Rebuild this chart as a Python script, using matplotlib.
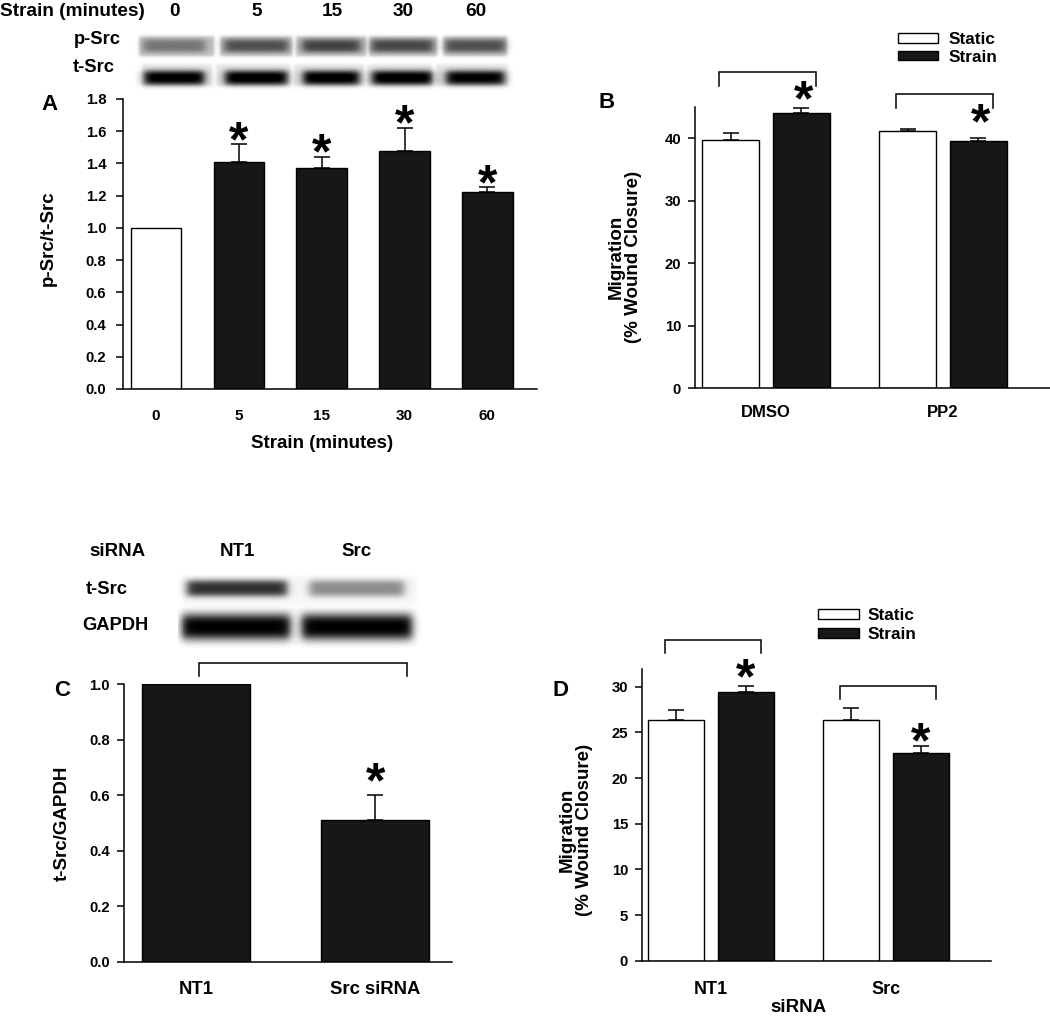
import numpy as np
import matplotlib
matplotlib.use("Agg")
import matplotlib.pyplot as plt
from matplotlib.patches import Patch
from matplotlib.textpath import TextPath
from matplotlib.font_manager import FontProperties

plt.rcParams['font.family'] = ['Liberation Sans', 'DejaVu Sans']
plt.rcParams['font.weight'] = 'bold'

# ---------------- data ----------------
a_labels = ['0', '5', '15', '30', '60']
a_vals = [1.00, 1.41, 1.374, 1.48, 1.225]
a_err = [0.0, 0.11, 0.066, 0.14, 0.027]
a_sig = [False, True, True, True, True]

b_groups = ['DMSO', 'PP2']
b_static = [39.7, 41.1]
b_static_err = [1.1, 0.4]
b_strain = [44.0, 39.6]
b_strain_err = [0.9, 0.45]
b_bracket_y = [48.3, 44.8]
b_star_y = [47.7, 44.0]

c_labels = ['NT1', 'Src siRNA']
c_vals = [1.00, 0.51]
c_err = [0.0, 0.09]
c_bracket_y = 1.029
c_star_y = 0.683

d_groups = ['NT1', 'Src']
d_static = [26.4, 26.4]
d_static_err = [1.05, 1.3]
d_strain = [29.4, 22.75]
d_strain_err = [0.68, 0.8]
d_bracket_y = [33.7, 28.7]
d_star_y = [32.06, 25.05]

# blot band intensities (darkness 0..1)
blotA_lanes = ['0', '5', '15', '30', '60']
blotA_psrc = [0.30, 0.45, 0.50, 0.48, 0.45]
blotA_tsrc = [0.93, 0.94, 0.94, 0.94, 0.91]
blotC_lanes = ['NT1', 'Src']
blotC_tsrc = [0.78, 0.42]
blotC_gapdh = [0.97, 0.97]

BLACK = '#171717'
W, H = 1050, 1019
fig = plt.figure(figsize=(W / 100, H / 100), dpi=100)


def pax(x0, y0, x1, y1):
    return fig.add_axes([x0 / W, 1 - y1 / H, (x1 - x0) / W, (y1 - y0) / H])


def ftext(x, y, s, **kw):
    return fig.text(x / W, 1 - y / H, s, **kw)


def style(ax, ytick_fs=10.7, ytick_pad=5):
    for s in ['top', 'right']:
        ax.spines[s].set_visible(False)
    for s in ['left', 'bottom']:
        ax.spines[s].set_linewidth(1.1)
    ax.tick_params(axis='y', direction='out', length=5, width=1.1,
                   labelsize=ytick_fs, pad=ytick_pad)


AST_FS = 36
_fp = FontProperties(family='Liberation Sans', weight='bold', size=AST_FS)
_ext = TextPath((0, 0), '*', size=AST_FS, prop=_fp).get_extents()
AST_CY = (_ext.y0 + _ext.y1) / 2


def star(ax, x, y):
    ax.annotate('*', xy=(x, y), xytext=(0, -AST_CY), textcoords='offset points',
                ha='center', va='baseline', fontsize=AST_FS, fontweight='bold',
                annotation_clip=False)


def bracket(ax, x0, x1, y, h):
    ax.plot([x0, x0, x1, x1], [y, y + h, y + h, y], color='black', lw=1.1,
            clip_on=False, solid_joinstyle='miter')


def soft_box(v, a, b, s):
    return 1 / (1 + np.exp(-(v - a) / s)) / (1 + np.exp((v - b) / s))


def strip(ax, x0, x1, y0, y1, blocks, bands):
    xs = np.arange(x0, x1 + 1, 0.5)
    ys = np.arange(y0, y1 + 1, 0.5)
    img = np.ones((len(ys), len(xs)))
    for (bl, br, bt, bb, bd) in blocks:
        img -= bd * soft_box(xs, bl, br, 0.8)[None, :] * soft_box(ys, bt, bb, 0.8)[:, None]
    for (xc, w, yc, h, d) in bands:
        img -= d * soft_box(xs, xc - w / 2, xc + w / 2, 2.5)[None, :] * \
            np.exp(-np.abs((ys - yc) / h) ** 3)[:, None]
    img = np.clip(img, 0, 1)
    ax.imshow(img, extent=(xs[0], xs[-1], ys[-1], ys[0]), cmap='gray',
              vmin=0, vmax=1, aspect='auto', interpolation='bilinear')


# ---------------- Panel A blot ----------------
bax = pax(130, 28, 515, 95)
bax.set_xlim(130, 515)
bax.set_ylim(95, 28)
bax.axis('off')
laneA_c = [174, 256, 331, 402, 475]
laneA_w = [62, 64, 58, 62, 60]
blkA_p = [(139, 214), (220, 292), (296, 366), (369, 437), (443, 507)]
blkA_t = [(142, 212), (216, 290), (294, 364), (367, 432), (436, 508)]
strip(bax, 135, 512, 30, 92,
      [(l, r, 37, 57, 0.24) for (l, r) in blkA_p] +
      [(l, r, 65, 87, 0.10) for (l, r) in blkA_t],
      [(c, w, 46.5, 7, d) for c, w, d in zip(laneA_c, laneA_w, blotA_psrc)] +
      [(c, w - 2, 78.5, 7.5, d) for c, w, d in zip(laneA_c, laneA_w, blotA_tsrc)])
ftext(72, 11, 'Strain (minutes)', ha='center', va='center', fontsize=13.7)
for c, lab in zip(laneA_c, blotA_lanes):
    ftext(c + 1, 11, lab, ha='center', va='center', fontsize=13.7)
ftext(97, 40, 'p-Src', ha='center', va='center', fontsize=13.2)
ftext(94, 68, 't-Src', ha='center', va='center', fontsize=13.2)

# ---------------- Panel A chart ----------------
axA = pax(123, 99, 537, 389)
xA = np.arange(len(a_vals))
colsA = ['white'] + [BLACK] * (len(a_vals) - 1)
axA.bar(xA, a_vals, width=0.61, color=colsA, edgecolor='black', linewidth=1.0, zorder=2)
m = np.array(a_err) > 0
axA.errorbar(xA[m], np.array(a_vals)[m], yerr=[np.zeros(m.sum()), np.array(a_err)[m]],
             fmt='none', ecolor='black', elinewidth=1.1, capsize=6, capthick=1.1, zorder=3)
for i in range(len(a_vals)):
    if a_sig[i]:
        star(axA, xA[i], a_vals[i] + a_err[i] + 0.083)
axA.set_xlim(-0.40, 4.60)
axA.set_ylim(0, 1.8)
axA.set_yticks(np.arange(0, 1.81, 0.2))
axA.set_yticklabels(['%.1f' % v for v in np.arange(0, 1.81, 0.2)])
axA.set_xticks(xA)
axA.set_xticklabels(a_labels)
style(axA, ytick_pad=7)
axA.tick_params(axis='x', length=0, labelsize=11, pad=14.5)
ftext(50, 104, 'A', ha='center', va='center', fontsize=16)
ftext(48, 238, 'p-Src/t-Src', ha='center', va='center', rotation=90, fontsize=13.5)
ftext(322, 444, 'Strain (minutes)', ha='center', va='center', fontsize=13.5)

# ---------------- Panel B ----------------
axB = pax(695, 107, 1050, 388)
xB = np.arange(len(b_groups))
off, bw = 0.2, 0.322
axB.bar(xB - off, b_static, width=bw, color='white', edgecolor='black', linewidth=1.0, zorder=2)
axB.bar(xB + off, b_strain, width=bw, color=BLACK, edgecolor='black', linewidth=1.0, zorder=2)
axB.errorbar(xB - off, b_static, yerr=[np.zeros(2), b_static_err], fmt='none', ecolor='black',
             elinewidth=1.1, capsize=6, capthick=1.1, zorder=3)
axB.errorbar(xB + off, b_strain, yerr=[np.zeros(2), b_strain_err], fmt='none', ecolor='black',
             elinewidth=1.1, capsize=6, capthick=1.1, zorder=3)
for g in range(len(b_groups)):
    bracket(axB, xB[g] - 0.266, xB[g] + 0.282, b_bracket_y[g], 2.3)
    star(axB, xB[g] + off + 0.012, b_star_y[g])
axB.set_xlim(-0.401, 1.605)
axB.set_ylim(0, 45)
axB.set_yticks([0, 10, 20, 30, 40])
axB.set_xticks(xB)
axB.set_xticklabels(b_groups)
style(axB)
axB.tick_params(axis='x', length=0, labelsize=12, pad=12.2)
axB.legend(handles=[Patch(facecolor='white', edgecolor='black', linewidth=1.0),
                    Patch(facecolor=BLACK, edgecolor='black', linewidth=1.0)],
           labels=['Static', 'Strain'], frameon=False, loc='upper left',
           bbox_to_anchor=(898 / W, 1 - 32 / H), bbox_transform=fig.transFigure,
           fontsize=12.4, handlelength=2.32, handleheight=0.47, handletextpad=0.64,
           labelspacing=0.15, borderpad=0, borderaxespad=0)
ftext(607, 103, 'B', ha='center', va='center', fontsize=16)
ftext(625, 257, 'Migration\n(% Wound Closure)', ha='center', va='center', rotation=90,
      fontsize=13.5, multialignment='center', linespacing=1.05)

# ---------------- Panel C blot ----------------
cbx = pax(178, 572, 422, 650)
cbx.set_xlim(178, 422)
cbx.set_ylim(650, 572)
cbx.axis('off')
laneC_c = [237, 357]
laneC_w = [100, 95]
gapC_c = [236, 357]
gapC_w = [108, 110]
strip(cbx, 178, 422, 574, 648,
      [(182, 417, 577, 605, 0.03), (182, 417, 610, 646, 0.03)],
      [(c, w, 589, 8.5, d) for c, w, d in zip(laneC_c, laneC_w, blotC_tsrc)] +
      [(c, w, 627.5, 13, d) for c, w, d in zip(gapC_c, gapC_w, blotC_gapdh)])
ftext(117, 552, 'siRNA', ha='center', va='center', fontsize=13.5)
for c, lab in zip(laneC_c, blotC_lanes):
    ftext(c, 552, lab, ha='center', va='center', fontsize=13.5)
ftext(107, 590, 't-Src', ha='center', va='center', fontsize=13.2)
ftext(115, 625, 'GAPDH', ha='center', va='center', fontsize=13.2)

# ---------------- Panel C chart ----------------
axC = pax(124, 684, 452, 961.7)
xC = np.arange(len(c_vals))
axC.bar(xC, c_vals, width=0.603, color=BLACK, edgecolor='black', linewidth=1.0, zorder=2)
axC.errorbar(xC[1:], c_vals[1:], yerr=[[0], c_err[1:]], fmt='none', ecolor='black',
             elinewidth=1.1, capsize=6, capthick=1.1, zorder=3)
bracket(axC, 0.017, 1.179, c_bracket_y, 0.047)
star(axC, xC[1] + 0.006, c_star_y)
axC.set_xlim(-0.402, 1.43)
axC.set_ylim(0, 1.0)
axC.set_yticks(np.arange(0, 1.01, 0.2))
axC.set_yticklabels(['%.1f' % v for v in np.arange(0, 1.01, 0.2)])
axC.set_xticks(xC)
axC.set_xticklabels(c_labels)
style(axC)
axC.tick_params(axis='x', length=0, labelsize=13.3, pad=14.2)
ftext(62, 690, 'C', ha='center', va='center', fontsize=16)
ftext(62, 823, 't-Src/GAPDH', ha='center', va='center', rotation=90, fontsize=13.5)

# ---------------- Panel D ----------------
axD = pax(642, 668.5, 991, 960.7)
xD = np.arange(len(d_groups))
off, bw = 0.2, 0.32
axD.bar(xD - off, d_static, width=bw, color='white', edgecolor='black', linewidth=1.0, zorder=2)
axD.bar(xD + off, d_strain, width=bw, color=BLACK, edgecolor='black', linewidth=1.0, zorder=2)
axD.errorbar(xD - off, d_static, yerr=[np.zeros(2), d_static_err], fmt='none', ecolor='black',
             elinewidth=1.1, capsize=6, capthick=1.1, zorder=3)
axD.errorbar(xD + off, d_strain, yerr=[np.zeros(2), d_strain_err], fmt='none', ecolor='black',
             elinewidth=1.1, capsize=6, capthick=1.1, zorder=3)
for g in range(len(d_groups)):
    bracket(axD, xD[g] - 0.262, xD[g] + 0.285, d_bracket_y[g], 1.4)
    star(axD, xD[g] + off, d_star_y[g])
axD.set_xlim(-0.394, 1.6)
axD.set_ylim(0, 32)
axD.set_yticks([0, 5, 10, 15, 20, 25, 30])
axD.set_xticks(xD)
axD.set_xticklabels(d_groups)
style(axD)
axD.tick_params(axis='x', length=0, labelsize=13, pad=14.3)
axD.legend(handles=[Patch(facecolor='white', edgecolor='black', linewidth=1.0),
                    Patch(facecolor=BLACK, edgecolor='black', linewidth=1.0)],
           labels=['Static', 'Strain'], frameon=False, loc='upper left',
           bbox_to_anchor=(818 / W, 1 - 608 / H), bbox_transform=fig.transFigure,
           fontsize=12.4, handlelength=2.38, handleheight=0.5, handletextpad=0.52,
           labelspacing=0.25, borderpad=0, borderaxespad=0)
ftext(561, 690, 'D', ha='center', va='center', fontsize=16)
ftext(576, 830, 'Migration\n(% Wound Closure)', ha='center', va='center', rotation=90,
      fontsize=13.5, multialignment='center', linespacing=1.05)
ftext(798, 1007, 'siRNA', ha='center', va='center', fontsize=13.5)

fig.savefig('out.png', dpi=100)
